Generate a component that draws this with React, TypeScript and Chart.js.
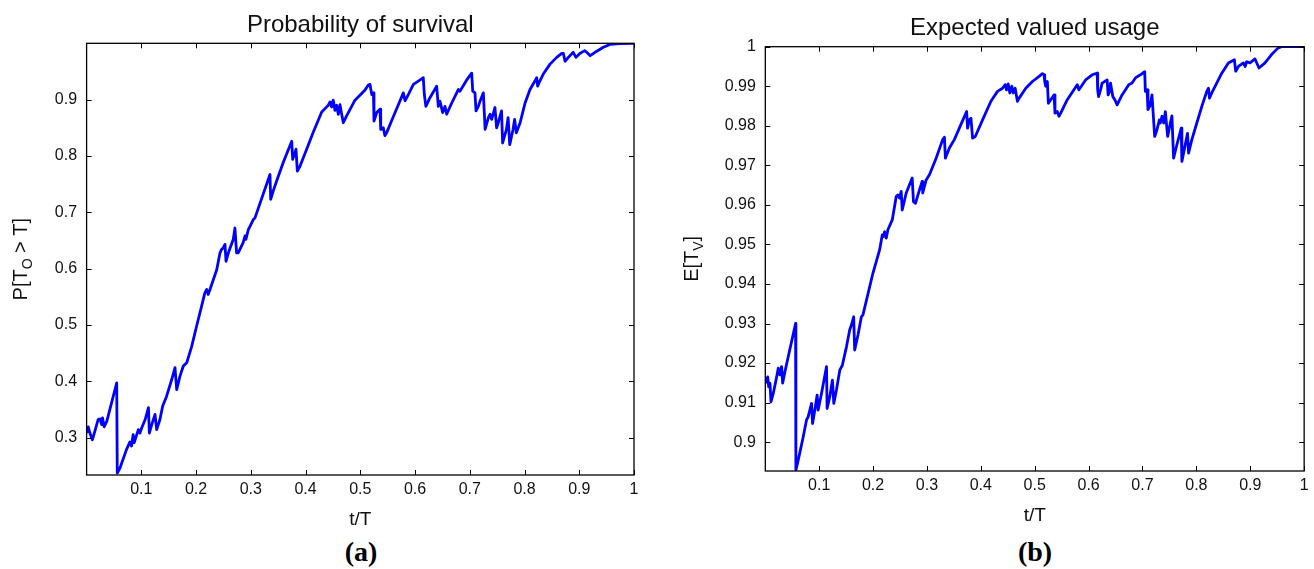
import React, { useEffect, useRef } from 'react';
import { Chart, registerables } from 'chart.js';
Chart.register(...registerables);

// ---------- data ----------
const survivalT = [0, 0.003, 0.006, 0.0105, 0.015, 0.021, 0.0245, 0.0275, 0.029, 0.032, 0.037, 0.055, 0.056, 0.061, 0.073, 0.079, 0.082, 0.085, 0.087, 0.0945, 0.0975, 0.1006, 0.107, 0.113, 0.1146, 0.119, 0.125, 0.128, 0.134, 0.139, 0.146, 0.1555, 0.1615, 0.1646, 0.1706, 0.1767, 0.183, 0.192, 0.201, 0.21, 0.216, 0.2194, 0.222, 0.2254, 0.2377, 0.2437, 0.2466, 0.2497, 0.2528, 0.2547, 0.259, 0.268, 0.271, 0.274, 0.277, 0.286, 0.2894, 0.291, 0.2954, 0.2985, 0.3045, 0.3076, 0.335, 0.3363, 0.341, 0.347, 0.359, 0.3747, 0.3765, 0.3807, 0.3825, 0.385, 0.39, 0.402, 0.414, 0.4295, 0.4355, 0.4415, 0.4447, 0.4475, 0.4506, 0.4537, 0.4568, 0.4598, 0.4629, 0.466, 0.469, 0.475, 0.4903, 0.5025, 0.5086, 0.5146, 0.5177, 0.521, 0.524, 0.525, 0.53, 0.536, 0.5373, 0.542, 0.545, 0.548, 0.557, 0.5695, 0.5786, 0.5817, 0.5877, 0.597, 0.606, 0.612, 0.615, 0.617, 0.6198, 0.627, 0.6395, 0.6425, 0.6456, 0.6505, 0.6547, 0.6578, 0.667, 0.6761, 0.679, 0.682, 0.6944, 0.7035, 0.7054, 0.7095, 0.7114, 0.7156, 0.7187, 0.7248, 0.728, 0.734, 0.737, 0.74, 0.746, 0.749, 0.752, 0.758, 0.76, 0.767, 0.77, 0.773, 0.779, 0.782, 0.785, 0.792, 0.801, 0.81, 0.819, 0.8223, 0.824, 0.828, 0.834, 0.8466, 0.8588, 0.868, 0.871, 0.874, 0.88, 0.886, 0.889, 0.894, 0.901, 0.91, 0.9136, 0.92, 0.932, 0.944, 0.956, 0.974, 1.0];
const survivalP = [0.308, 0.319, 0.308, 0.296, 0.311, 0.332, 0.333, 0.323, 0.335, 0.319, 0.329, 0.397, 0.237, 0.246, 0.279, 0.292, 0.285, 0.305, 0.291, 0.314, 0.308, 0.317, 0.332, 0.353, 0.308, 0.323, 0.341, 0.314, 0.332, 0.356, 0.373, 0.403, 0.424, 0.385, 0.409, 0.427, 0.433, 0.462, 0.498, 0.533, 0.557, 0.563, 0.554, 0.563, 0.598, 0.628, 0.634, 0.637, 0.643, 0.613, 0.628, 0.652, 0.672, 0.628, 0.628, 0.646, 0.658, 0.652, 0.669, 0.675, 0.687, 0.69, 0.767, 0.723, 0.738, 0.755, 0.788, 0.826, 0.794, 0.806, 0.812, 0.773, 0.782, 0.812, 0.842, 0.878, 0.884, 0.89, 0.896, 0.887, 0.899, 0.881, 0.89, 0.874, 0.891, 0.874, 0.859, 0.871, 0.899, 0.911, 0.917, 0.926, 0.927, 0.909, 0.912, 0.862, 0.877, 0.883, 0.847, 0.85, 0.836, 0.841, 0.862, 0.891, 0.912, 0.898, 0.909, 0.927, 0.933, 0.937, 0.939, 0.909, 0.888, 0.903, 0.924, 0.888, 0.897, 0.877, 0.888, 0.874, 0.894, 0.912, 0.918, 0.915, 0.935, 0.947, 0.915, 0.912, 0.88, 0.888, 0.897, 0.912, 0.847, 0.868, 0.874, 0.865, 0.886, 0.85, 0.859, 0.88, 0.823, 0.847, 0.868, 0.82, 0.847, 0.865, 0.841, 0.859, 0.894, 0.918, 0.933, 0.939, 0.924, 0.933, 0.945, 0.963, 0.975, 0.982, 0.982, 0.968, 0.975, 0.981, 0.984, 0.975, 0.982, 0.987, 0.984, 0.978, 0.986, 0.993, 0.998, 0.9995, 1.0];

const usageT = [0, 0.0044, 0.0063, 0.0087, 0.0105, 0.0148, 0.0211, 0.024, 0.0272, 0.0303, 0.0322, 0.0364, 0.0562, 0.0568, 0.061, 0.0703, 0.0765, 0.0795, 0.0858, 0.0877, 0.0919, 0.0962, 0.098, 0.1043, 0.1136, 0.1147, 0.1197, 0.1246, 0.1271, 0.132, 0.1382, 0.1431, 0.1506, 0.1567, 0.1598, 0.164, 0.1659, 0.172, 0.1783, 0.1812, 0.1997, 0.2121, 0.2171, 0.2195, 0.2214, 0.2245, 0.2275, 0.2356, 0.243, 0.246, 0.2491, 0.2522, 0.2541, 0.2615, 0.2726, 0.275, 0.2787, 0.2861, 0.2911, 0.2922, 0.2985, 0.3046, 0.317, 0.3292, 0.3324, 0.3342, 0.3416, 0.3508, 0.3601, 0.3736, 0.3754, 0.3786, 0.3817, 0.3847, 0.3897, 0.4032, 0.4187, 0.4309, 0.4402, 0.4452, 0.4476, 0.4507, 0.4538, 0.4575, 0.46, 0.4637, 0.4679, 0.4711, 0.4834, 0.4957, 0.5081, 0.5142, 0.5174, 0.5186, 0.5204, 0.5234, 0.5253, 0.5297, 0.5358, 0.5376, 0.5419, 0.545, 0.5482, 0.5604, 0.5789, 0.582, 0.5944, 0.6066, 0.6159, 0.6168, 0.6185, 0.6222, 0.6251, 0.6344, 0.6362, 0.6388, 0.6406, 0.6449, 0.6486, 0.6529, 0.6621, 0.6745, 0.6806, 0.6868, 0.6961, 0.7041, 0.7053, 0.7084, 0.7102, 0.7146, 0.7176, 0.7226, 0.7269, 0.7313, 0.7332, 0.7362, 0.7393, 0.7424, 0.7467, 0.7517, 0.7546, 0.7577, 0.7638, 0.7719, 0.7731, 0.7793, 0.7836, 0.7855, 0.7916, 0.8008, 0.8101, 0.8193, 0.8224, 0.8243, 0.8286, 0.8471, 0.8594, 0.8705, 0.873, 0.878, 0.8872, 0.8904, 0.8933, 0.8996, 0.9088, 0.9162, 0.9273, 0.9395, 0.9519, 0.9581, 1.0];
const usageE = [0.9149, 0.9165, 0.914, 0.9149, 0.9102, 0.9123, 0.9165, 0.9187, 0.917, 0.9191, 0.9149, 0.9178, 0.93, 0.8929, 0.8954, 0.9013, 0.9056, 0.9064, 0.9098, 0.9047, 0.9081, 0.9119, 0.9081, 0.9123, 0.9191, 0.9085, 0.9115, 0.9157, 0.9098, 0.9132, 0.9182, 0.9195, 0.9241, 0.9284, 0.9296, 0.9317, 0.9233, 0.9271, 0.9317, 0.9322, 0.9427, 0.9486, 0.9524, 0.952, 0.9532, 0.9516, 0.9537, 0.9562, 0.9621, 0.9625, 0.9617, 0.9634, 0.9587, 0.963, 0.9668, 0.9608, 0.9604, 0.9638, 0.9659, 0.963, 0.9663, 0.9676, 0.9718, 0.9765, 0.9771, 0.9718, 0.9744, 0.9765, 0.9794, 0.9836, 0.9794, 0.9815, 0.9819, 0.9769, 0.9773, 0.9815, 0.9862, 0.9887, 0.9895, 0.9904, 0.9891, 0.9906, 0.9883, 0.99, 0.9883, 0.9895, 0.9862, 0.987, 0.9895, 0.9912, 0.9925, 0.9932, 0.9929, 0.9912, 0.99, 0.9912, 0.9857, 0.9866, 0.9878, 0.9832, 0.9836, 0.9824, 0.9832, 0.9866, 0.9904, 0.9891, 0.9916, 0.9929, 0.9933, 0.9891, 0.9874, 0.9891, 0.9908, 0.9916, 0.9878, 0.9887, 0.9908, 0.9874, 0.9866, 0.9853, 0.9878, 0.9904, 0.9908, 0.9921, 0.9929, 0.9937, 0.9887, 0.9891, 0.9841, 0.9853, 0.9878, 0.9773, 0.979, 0.9815, 0.9807, 0.9824, 0.9807, 0.9836, 0.9773, 0.9807, 0.9825, 0.9718, 0.9752, 0.9794, 0.971, 0.9752, 0.9781, 0.9731, 0.9765, 0.9807, 0.9849, 0.9887, 0.9895, 0.987, 0.9883, 0.9933, 0.9959, 0.9967, 0.9938, 0.995, 0.9959, 0.995, 0.9962, 0.9959, 0.9969, 0.9946, 0.9959, 0.998, 0.9997, 1.0, 1.0];

const xTickValues = [0.1, 0.2, 0.3, 0.4, 0.5, 0.6, 0.7, 0.8, 0.9, 1];
const xTickLabels = ['0.1', '0.2', '0.3', '0.4', '0.5', '0.6', '0.7', '0.8', '0.9', '1'];
const survivalTickValues = [0.3, 0.4, 0.5, 0.6, 0.7, 0.8, 0.9];
const survivalTickLabels = ['0.3', '0.4', '0.5', '0.6', '0.7', '0.8', '0.9'];
const usageTickValues = [0.9, 0.91, 0.92, 0.93, 0.94, 0.95, 0.96, 0.97, 0.98, 0.99, 1];
const usageTickLabels = ['0.9', '0.91', '0.92', '0.93', '0.94', '0.95', '0.96', '0.97', '0.98', '0.99', '1'];

const FONT = '"Liberation Sans", Arial, Helvetica, sans-serif';

type Part = { text: string; sub?: boolean };

const framePlugin = {
  id: 'frame',
  afterDraw(chart: any, _args: any, opts: any) {
    const { ctx, chartArea: a, scales } = chart;
    const xs = scales.x;
    const ys = scales.y;
    ctx.save();
    ctx.strokeStyle = '#000';
    ctx.lineWidth = 1.3;
    ctx.strokeRect(a.left, a.top, a.right - a.left, a.bottom - a.top);
    const L = 5;
    ctx.beginPath();
    xs.ticks.forEach((t: any) => {
      const px = Math.round(xs.getPixelForValue(t.value)) + 0.5;
      ctx.moveTo(px, a.bottom); ctx.lineTo(px, a.bottom - L);
      ctx.moveTo(px, a.top); ctx.lineTo(px, a.top + L);
    });
    ys.ticks.forEach((t: any) => {
      const py = Math.round(ys.getPixelForValue(t.value)) + 0.5;
      ctx.moveTo(a.left, py); ctx.lineTo(a.left + L, py);
      ctx.moveTo(a.right, py); ctx.lineTo(a.right - L, py);
    });
    ctx.lineWidth = 1;
    ctx.stroke();

    const cx = (a.left + a.right) / 2;
    const cy = (a.top + a.bottom) / 2;
    ctx.fillStyle = '#111';
    ctx.textAlign = 'center';
    ctx.textBaseline = 'alphabetic';
    ctx.font = `24px ${FONT}`;
    ctx.fillText(opts.title, cx, a.top - 11.6);
    ctx.font = `19px ${FONT}`;
    ctx.fillText(opts.xLabel, cx, a.bottom + 50);

    // rotated y label with subscript
    const parts: Part[] = opts.yLabel;
    const mainFont = `20px ${FONT}`;
    const subFont = `14px ${FONT}`;
    let total = 0;
    const widths = parts.map((p) => {
      ctx.font = p.sub ? subFont : mainFont;
      const w = ctx.measureText(p.text).width;
      total += w;
      return w;
    });
    ctx.translate(opts.yLabelX, cy);
    ctx.rotate(-Math.PI / 2);
    ctx.textAlign = 'left';
    let x = -total / 2;
    parts.forEach((p, i) => {
      ctx.font = p.sub ? subFont : mainFont;
      ctx.fillText(p.text, x, p.sub ? 5 : 0);
      x += widths[i];
    });
    ctx.restore();
  },
};

type Cfg = {
  t: number[];
  v: number[];
  yMin: number;
  yMax: number;
  yTicks: number[];
  yLabels: string[];
  yWidth: number;
  top: number;
  right: number;
  bottomH: number;
  title: string;
  yLabel: Part[];
  yLabelX: number;
};

function makeTickCb(values: number[], labels: string[]) {
  return (v: any) => {
    const i = values.findIndex((x) => Math.abs(x - Number(v)) < 1e-9);
    return i >= 0 ? labels[i] : '';
  };
}

function Panel({ cfg, width, height }: { cfg: Cfg; width: number; height: number }) {
  const ref = useRef<HTMLCanvasElement | null>(null);
  useEffect(() => {
    if (!ref.current) return;
    const tickFont = { family: FONT, size: 16 };
    const chart = new Chart(ref.current, {
      type: 'line',
      data: {
        datasets: [
          {
            data: cfg.t.map((x, i) => ({ x, y: cfg.v[i] })),
            borderColor: '#0000ff',
            borderWidth: 2.8,
            pointRadius: 0,
            tension: 0,
            fill: false,
            borderJoinStyle: 'round',
          },
        ],
      },
      options: {
        responsive: false,
        animation: false,
        events: [],
        layout: { padding: { left: 0, right: cfg.right, top: cfg.top, bottom: 0 } },
        plugins: {
          legend: { display: false },
          tooltip: { enabled: false },
          title: { display: false },
          frame: { title: cfg.title, xLabel: 't/T', yLabel: cfg.yLabel, yLabelX: cfg.yLabelX },
        } as any,
        scales: {
          x: {
            type: 'linear',
            position: 'bottom',
            min: 0,
            max: 1,
            grid: { display: false, drawTicks: false },
            border: { display: false },
            afterBuildTicks: (s: any) => { s.ticks = xTickValues.map((value) => ({ value })); },
            afterFit: (s: any) => { s.height = cfg.bottomH; },
            ticks: {
              font: tickFont,
              color: '#111',
              padding: 5.4,
              maxRotation: 0,
              autoSkip: false,
              callback: makeTickCb(xTickValues, xTickLabels),
            },
          },
          y: {
            type: 'linear',
            position: 'left',
            min: cfg.yMin,
            max: cfg.yMax,
            grid: { display: false, drawTicks: false },
            border: { display: false },
            afterBuildTicks: (s: any) => { s.ticks = cfg.yTicks.map((value) => ({ value })); },
            afterFit: (s: any) => { s.width = cfg.yWidth; },
            ticks: {
              font: tickFont,
              color: '#111',
              padding: 9.5,
              autoSkip: false,
              callback: makeTickCb(cfg.yTicks, cfg.yLabels),
            },
          },
        },
      } as any,
      plugins: [framePlugin],
    });
    return () => chart.destroy();
  }, [cfg]);
  return <canvas ref={ref} width={width} height={height} style={{ display: 'block' }} />;
}

const leftCfg: Cfg = {
  t: survivalT,
  v: survivalP,
  yMin: 0.2335,
  yMax: 1.0,
  yTicks: survivalTickValues,
  yLabels: survivalTickLabels,
  yWidth: 86.6,
  top: 43.3,
  right: 23,
  bottomH: 55,
  title: 'Probability of survival',
  yLabel: [{ text: 'P[T' }, { text: 'O', sub: true }, { text: ' > T]' }],
  yLabelX: 27,
};

const rightCfg: Cfg = {
  t: usageT,
  v: usageE,
  yMin: 0.8927,
  yMax: 1.0,
  yTicks: usageTickValues,
  yLabels: usageTickLabels,
  yWidth: 108.3,
  top: 46.7,
  right: 8,
  bottomH: 59,
  title: 'Expected valued usage',
  yLabel: [{ text: 'E[T' }, { text: 'V', sub: true }, { text: ']' }],
  yLabelX: 41,
};

export default function App() {
  const capStyle: React.CSSProperties = {
    position: 'absolute',
    top: 534,
    width: 100,
    textAlign: 'center',
    fontFamily: '"Liberation Serif", "Times New Roman", serif',
    fontWeight: 'bold',
    fontSize: 28,
    lineHeight: '36px',
    color: '#000',
  };
  return (
    <div style={{ position: 'absolute', left: 0, top: 0, width: 1314, height: 569, background: '#fff' }}>
      <div style={{ position: 'absolute', left: 0, top: 0 }}>
        <Panel cfg={leftCfg} width={657} height={530} />
      </div>
      <div style={{ position: 'absolute', left: 657, top: 0 }}>
        <Panel cfg={rightCfg} width={657} height={530} />
      </div>
      <div style={{ ...capStyle, left: 361 - 50 }}>(a)</div>
      <div style={{ ...capStyle, left: 1035 - 50 }}>(b)</div>
    </div>
  );
}
